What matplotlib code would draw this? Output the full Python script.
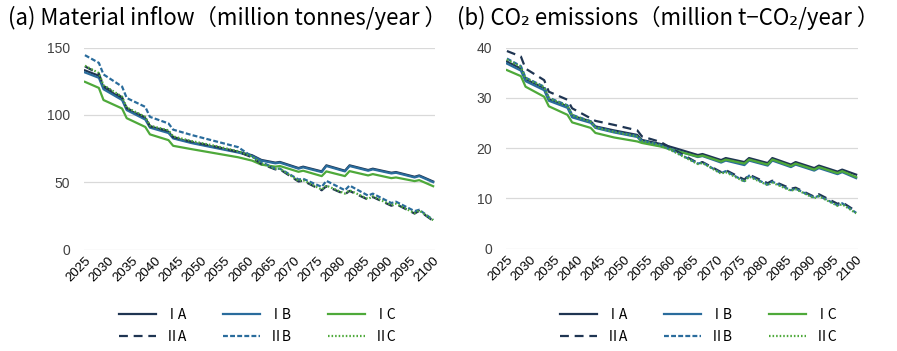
import numpy as np
import matplotlib
matplotlib.use("Agg")
import matplotlib.pyplot as plt

plt.rcParams['font.family'] = ['Noto Sans CJK JP', 'DejaVu Sans']

# vertex years (panel a / panel b)
years_a = [2025, 2028, 2029, 2033, 2034, 2038, 2039, 2043, 2044, 2048, 2053, 2058, 2061, 2063,
           2066, 2067, 2071, 2072, 2076, 2077, 2081, 2082, 2086, 2087, 2091, 2092, 2096, 2097, 2100]
years_b = [2025, 2028, 2029, 2033, 2034, 2038, 2039, 2043, 2044, 2048, 2053, 2054, 2058, 2061,
           2066, 2067, 2071, 2072, 2076, 2077, 2081, 2082, 2086, 2087, 2091, 2092, 2096, 2097, 2100]

# (a) material inflow, million tonnes/year
inflow_IA = [133, 129, 120.5, 112, 104.5, 97.5, 91.5, 87.5, 83, 79.5, 76, 72.5, 70, 66.5,
             64.5, 65, 60.5, 61.5, 58, 62.5, 58.5, 62.5, 59, 60, 57, 57.5, 54, 55, 50.5]
inflow_IB = [131.5, 127.5, 119, 111, 103.5, 96.5, 90.5, 86.5, 82.5, 79, 75.5, 72, 69.5, 66,
             64, 64.5, 60, 61, 57.5, 62, 58, 62, 58.5, 59.5, 56.5, 57, 53.5, 54.5, 50]
inflow_IC = [124.5, 120, 111, 104.7, 97.5, 91, 85.5, 81.2, 77, 74.5, 71.5, 68.5, 66, 63,
             61.5, 62, 57.7, 58.5, 54.5, 58, 54.5, 58.2, 55, 56, 53, 53.5, 50.8, 51.5, 47]
inflow_IIA = [136, 130.5, 121.5, 113, 105, 98, 91.5, 88, 83.5, 80, 76.5, 72.5, 68.5, 63.5,
              59.5, 59.5, 50.5, 51, 44, 47, 41, 43.5, 37, 39, 32.5, 33.7, 26.7, 28.7, 21.3]
inflow_IIB = [144.3, 138.6, 130, 121, 112.5, 105.9, 98.5, 93.6, 89, 85, 80.5, 76, 69, 65,
              60, 60, 52, 52.5, 46.5, 51, 44, 47.5, 40, 41.5, 34.5, 35.5, 28.5, 29.5, 22]
inflow_IIC = [136.5, 131, 122, 113.5, 105.5, 98.5, 92, 88.5, 84, 80.5, 77, 73, 69, 64,
              60, 60, 51, 51.5, 44.5, 47.5, 41.5, 44, 37.5, 39.5, 33, 34, 27, 29, 21.8]

# (b) CO2 emissions, million t-CO2/year
co2_IA = [37.2, 35.8, 33.7, 31.9, 29.7, 28.3, 26.4, 25.3, 24.3, 23.5, 22.6, 21.6, 20.8, 20.0,
          18.6, 18.8, 17.6, 18.0, 17.2, 18.0, 17.0, 18.0, 16.7, 17.2, 16.0, 16.5, 15.3, 15.7, 14.7]
co2_IB = [36.8, 35.4, 33.3, 31.5, 29.4, 28.0, 26.1, 25.0, 24.0, 23.1, 22.2, 21.2, 20.4, 19.6,
          18.2, 18.4, 17.1, 17.5, 16.6, 17.5, 16.5, 17.5, 16.2, 16.7, 15.5, 16.0, 14.8, 15.2, 14.0]
co2_IC = [35.5, 34.3, 32.2, 30.2, 28.3, 26.6, 25.1, 24.0, 23.0, 22.1, 21.3, 21.0, 20.3, 19.5,
          18.3, 18.5, 17.3, 17.7, 16.9, 17.7, 16.7, 17.7, 16.4, 16.9, 15.7, 16.2, 15.0, 15.4, 14.2]
co2_IIA = [39.3, 38.2, 35.8, 33.5, 31.2, 29.6, 27.9, 25.9, 25.4, 24.6, 23.5, 22.3, 21.2, 19.6,
           17.0, 17.2, 15.2, 15.6, 13.7, 14.7, 13.0, 13.5, 11.9, 12.1, 10.3, 10.8, 8.9, 9.2, 7.4]
co2_IIB = [37.8, 36.3, 34.0, 32.2, 30.0, 28.5, 26.6, 25.3, 24.2, 23.3, 22.4, 21.5, 20.6, 19.3,
           16.9, 17.1, 15.0, 15.4, 13.4, 14.5, 12.7, 13.3, 11.6, 11.9, 10.1, 10.5, 8.6, 9.0, 7.1]
co2_IIC = [37.6, 36.1, 33.9, 32.1, 29.9, 28.4, 26.5, 25.2, 24.1, 23.2, 22.3, 21.4, 20.5, 19.2,
           16.8, 17.0, 14.9, 15.2, 13.3, 14.3, 12.6, 13.1, 11.5, 11.8, 10.0, 10.4, 8.5, 8.8, 7.0]

labels = ['ⅠA', 'ⅠB', 'ⅠC', 'ⅡA', 'ⅡB', 'ⅡC']
xticks = list(range(2025, 2101, 5))

NAVY = '#1f3552'
BLUE = '#2a6c9c'
GREEN = '#4ea93a'
styles = [
    dict(color=NAVY, ls='-'),
    dict(color=BLUE, ls='-'),
    dict(color=GREEN, ls='-'),
    dict(color=NAVY, ls=(0, (4, 2.6))),
    dict(color=BLUE, ls=(0, (2.2, 1))),
    dict(color=GREEN, ls=(0, (0.7, 0.9))),
]


def draw_panel(fig, rect, years, series, ymax, ystep, title, title_x, leg_x):
    ax = fig.add_axes(rect)
    handles = []
    for vals, st in zip(series, styles):
        h, = ax.plot(years, vals, lw=1.6, **st)
        handles.append(h)
    ax.set_xlim(2024.8, 2100.4)
    ax.set_ylim(0, ymax)
    ax.set_yticks(np.arange(0, ymax + 1, ystep))
    ax.set_xticks(xticks)
    ax.set_xticklabels([str(y) for y in xticks], rotation=45, ha='right',
                       rotation_mode='anchor', family='Liberation Sans', fontsize=9.5)
    for t in ax.get_yticklabels():
        t.set_family('Liberation Sans')
        t.set_fontsize(10)
        t.set_color('#404040')
    ax.tick_params(length=0, pad=10)
    ax.tick_params(axis='x', pad=4)
    ax.grid(axis='y', color='#d9d9d9', lw=0.9)
    ax.set_axisbelow(True)
    for s in ax.spines.values():
        s.set_visible(False)
    fig.text(title_x, 1 - 18 / 351, title, fontsize=16, va='center', ha='left',
             family=['Noto Sans CJK JP', 'DejaVu Sans'])
    order = [0, 3, 1, 4, 2, 5]
    fig.legend([handles[i] for i in order], [labels[i] for i in order], ncol=3,
               loc='center left', bbox_to_anchor=(leg_x, 1 - 326 / 351),
               frameon=False, fontsize=10, handlelength=2.7, handletextpad=0.6,
               columnspacing=2.6, labelspacing=0.55)
    return ax


fig = plt.figure(figsize=(8.97, 3.51), dpi=100)

draw_panel(fig, [84 / 897, 101.5 / 351, 351 / 897, 202 / 351], years_a,
           [inflow_IA, inflow_IB, inflow_IC, inflow_IIA, inflow_IIB, inflow_IIC],
           150, 50, '(a) Material inflow（million tonnes/year ）', 8 / 897, 106 / 897)
draw_panel(fig, [506 / 897, 102.5 / 351, 352 / 897, 201 / 351], years_b,
           [co2_IA, co2_IB, co2_IC, co2_IIA, co2_IIB, co2_IIC],
           40, 10, '(b) CO₂ emissions（million t−CO₂/year ）', 457 / 897, 547 / 897)

fig.savefig('out.png', dpi=100)
